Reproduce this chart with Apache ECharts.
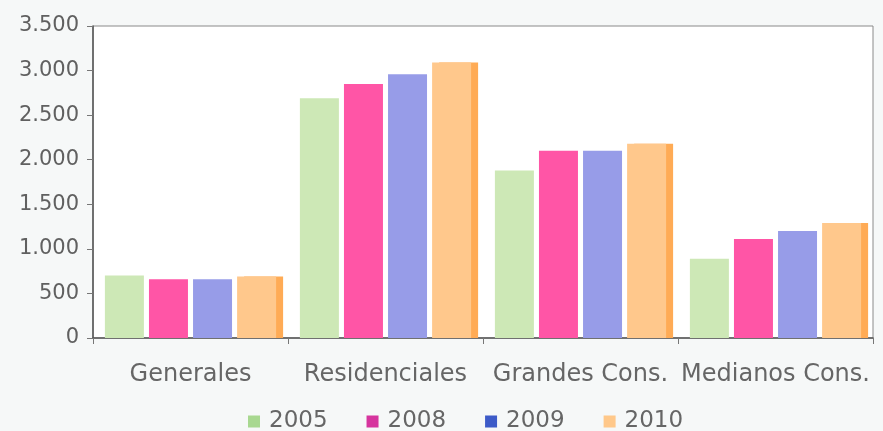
<!DOCTYPE html>
<html>
<head>
<meta charset="utf-8">
<script src="https://cdn.jsdelivr.net/npm/echarts@6/dist/echarts.min.js"></script>
<style>
html,body{margin:0;padding:0;background:#f6f8f8;}
#chart{width:883px;height:431px;}
</style>
</head>
<body>
<div id="chart"></div>
<script>
const categories = ['Generales', 'Residenciales', 'Grandes Cons.', 'Medianos Cons.'];
const seriesNames = ['2005', '2008', '2009', '2010'];
const values2005 = [700, 2690, 1880, 890];
const values2008 = [660, 2850, 2100, 1110];
const values2009 = [660, 2960, 2100, 1200];
const values2010 = [690, 3090, 2180, 1290];
const yTicks = [0, 500, 1000, 1500, 2000, 2500, 3000, 3500];

const barColors = ['#cde8b6', '#ff55a6', '#979ce8', '#ffc88c'];
const legendColors = ['#a8d890', '#d6359e', '#3d5bc8', '#ffc88a'];
const allValues = [values2005, values2008, values2009, values2010];

const chart = echarts.init(document.getElementById('chart'));
const fontFamily = 'DejaVu Sans';

chart.setOption({
  backgroundColor: '#f6f8f8',
  animation: false,
  grid: {
    left: 93, right: 10, top: 26, bottom: 93,
    show: true, backgroundColor: '#ffffff', borderColor: '#8a8a8a', borderWidth: 1
  },
  legend: {
    left: 243, top: 405,
    itemWidth: 12, itemHeight: 12, itemGap: 39,
    icon: 'rect',
    textStyle: { fontFamily, fontSize: 23, color: '#666', padding: [0, 0, 0, 4] },
    data: seriesNames.map((n, i) => ({ name: n, itemStyle: { color: legendColors[i] } }))
  },
  xAxis: {
    type: 'category',
    data: categories,
    axisLine: { lineStyle: { color: '#555', width: 1.5 } },
    axisTick: { show: true, length: 6, lineStyle: { color: '#777' } },
    axisLabel: { interval: 0, fontFamily, fontSize: 24, color: '#666', margin: 25 }
  },
  yAxis: {
    type: 'value',
    min: 0, max: yTicks[yTicks.length - 1], interval: 500,
    splitLine: { show: false },
    axisLine: { show: true, lineStyle: { color: '#555', width: 1.5 } },
    axisTick: { show: true, length: 6, lineStyle: { color: '#777' } },
    axisLabel: {
      fontFamily, fontSize: 21, color: '#606060', margin: 14,
      formatter: v => String(v).replace(/\B(?=(\d{3})+(?!\d))/g, '.')
    }
  },
  series: seriesNames.map((n, i) => ({
    name: n,
    type: 'bar',
    data: allValues[i],
    barWidth: 39,
    barGap: '13%',
    itemStyle: i === 3 ? {
      color: barColors[i],
      shadowColor: '#ffab55', shadowBlur: 0, shadowOffsetX: 7, shadowOffsetY: 0
    } : { color: barColors[i] }
  }))
});
</script>
</body>
</html>
